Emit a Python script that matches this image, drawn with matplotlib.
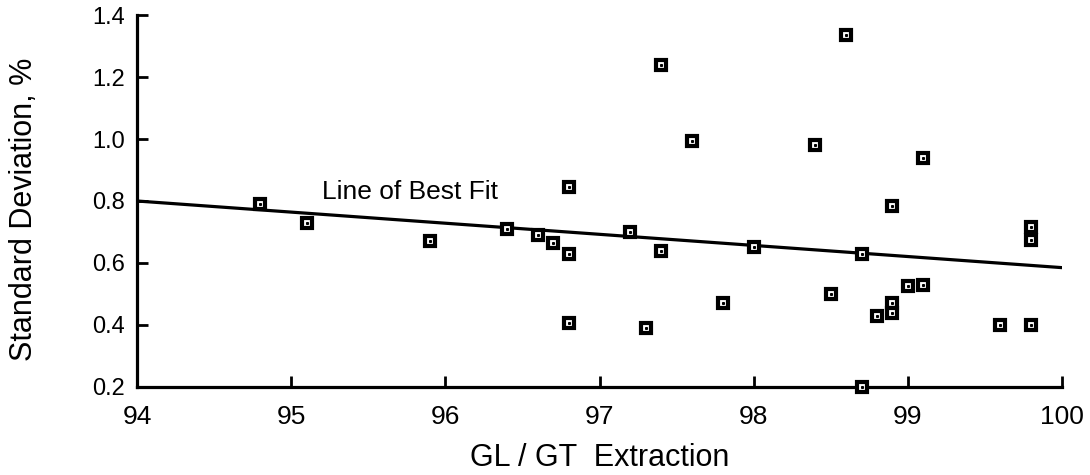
import numpy as np
import matplotlib.pyplot as plt

plt.rcParams['font.family'] = ['Liberation Sans', 'DejaVu Sans']

# extraction (%) vs standard deviation (%) for each run
extraccion = [94.8, 95.1, 95.9, 96.4, 96.6, 96.7, 96.8, 96.8, 96.8, 97.2,
              97.4, 97.3, 98.0, 97.8, 98.7, 98.9, 98.5, 99.0, 99.1, 98.9,
              98.9, 98.8, 99.6, 99.8, 99.8, 99.8, 98.7, 98.6, 97.4, 97.6,
              98.4, 99.1]
desv = [0.79, 0.73, 0.67, 0.71, 0.69, 0.665, 0.63, 0.845, 0.405, 0.70,
        0.64, 0.39, 0.65, 0.47, 0.63, 0.785, 0.50, 0.525, 0.53, 0.47,
        0.44, 0.43, 0.40, 0.40, 0.715, 0.675, 0.20, 1.335, 1.24, 0.995,
        0.98, 0.94]

# recta de mejor ajuste (extremos)
fit_x = [94, 100]
fit_y = [0.80, 0.585]

fig = plt.figure(figsize=(10.9, 4.75), dpi=100)
ax = fig.add_axes([0.1257, 0.1853, 0.8486, 0.7831])

ax.plot(fit_x, fit_y, color='black', lw=2.3, zorder=2)
ax.plot(extraccion, desv, 's', ms=6.8, mfc='white', mec='black', mew=3.0,
        clip_on=False, zorder=3)
ax.plot(extraccion, desv, 's', ms=1.2, color='black', clip_on=False, zorder=4)

ax.text(95.77, 0.83, 'Line of Best Fit', fontsize=19, ha='center', va='center')

ax.set_xlim(94, 100)
ax.set_ylim(0.2, 1.4)
ax.set_xticks(np.arange(94, 101, 1))
ax.set_yticks(np.arange(0.2, 1.41, 0.2))
ax.set_yticklabels([f'{v:.1f}' for v in np.arange(0.2, 1.41, 0.2)])

for s in ['top', 'right']:
    ax.spines[s].set_visible(False)
for s in ['left', 'bottom']:
    ax.spines[s].set_linewidth(2.3)

ax.tick_params(axis='both', direction='in', length=8, width=2)
ax.tick_params(axis='x', labelsize=19, pad=13)
ax.tick_params(axis='y', labelsize=17, pad=9)

ax.set_xlabel('GL / GT  Extraction', fontsize=22)
ax.set_ylabel('Standard Deviation, %', fontsize=22)
ax.xaxis.set_label_coords(0.5, -0.15)
ax.yaxis.set_label_coords(-0.106, 0.478)

fig.savefig('out.png', dpi=100)
